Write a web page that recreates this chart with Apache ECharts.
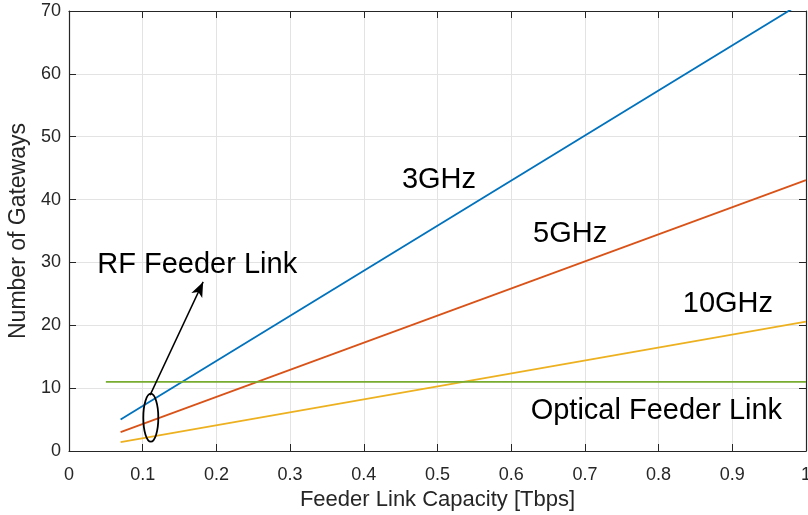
<!DOCTYPE html>
<html>
<head>
<meta charset="utf-8">
<script src="https://cdn.jsdelivr.net/npm/echarts@6/dist/echarts.min.js"></script>
<style>
  html, body { margin: 0; padding: 0; background: #fff; }
  #main { width: 808px; height: 515px; }
</style>
</head>
<body>
<div id="main"></div>
<script>
// 数据
const xTicks = [0, 0.1, 0.2, 0.3, 0.4, 0.5, 0.6, 0.7, 0.8, 0.9, 1];
const yTicks = [0, 10, 20, 30, 40, 50, 60, 70];
const rf3GHz = [[0.07, 5], [1, 71.7]];
const rf5GHz = [[0.07, 3], [1, 43.1]];
const rf10GHz = [[0.07, 1.4], [1, 20.6]];
const optical = [[0.05, 11], [1, 11]];

// 注释文字 (数据坐标)
const notes = [
  { text: '3GHz', at: [0.502, 43.1] },
  { text: '5GHz', at: [0.680, 34.5] },
  { text: '10GHz', at: [0.894, 23.4] },
  { text: 'RF Feeder Link', at: [0.174, 29.6] },
  { text: 'Optical Feeder Link', at: [0.797, 6.4] }
];
const arrowFrom = [0.110, 8.9];
const arrowTo = [0.182, 26.9];
const ellipseAt = [0.111, 5.3];

const axisColor = '#262626';
const fontFam = '"Liberation Sans", Arial, sans-serif';

const chart = echarts.init(document.getElementById('main'));

function lineSeries(name, data, color) {
  return {
    name, type: 'line', data, symbol: 'none', clip: true,
    lineStyle: { color, width: 1.8 },
    animation: false
  };
}

const baseAxis = {
  axisLine: { show: true, onZero: false, lineStyle: { color: axisColor, width: 1.2 } },
  axisTick: { show: true, inside: true, length: 7, lineStyle: { color: axisColor } },
  axisLabel: { color: axisColor, fontSize: 18, fontFamily: fontFam },
  splitLine: { show: true, lineStyle: { color: '#e3e3e3', width: 1 } }
};

chart.setOption({
  animation: false,
  grid: { left: 69, right: 2, top: 11, bottom: 64, containLabel: false, outerBoundsMode: 'none' },
  xAxis: [
    Object.assign({}, baseAxis, {
      type: 'value', min: 0, max: 1, interval: 0.1,
      name: 'Feeder Link Capacity [Tbps]', nameLocation: 'middle', nameGap: 38,
      nameTextStyle: { color: axisColor, fontSize: 22, fontFamily: fontFam },
      axisLabel: Object.assign({}, baseAxis.axisLabel, {
        margin: 15,
        formatter: v => xTicks.includes(Math.round(v * 10) / 10) ? String(Math.round(v * 10) / 10) : ''
      })
    }),
    {
      type: 'value', min: 0, max: 1, interval: 0.1, position: 'top',
      axisLine: baseAxis.axisLine, axisTick: baseAxis.axisTick,
      axisLabel: { show: false }, splitLine: { show: false }
    }
  ],
  yAxis: [
    Object.assign({}, baseAxis, {
      type: 'value', min: 0, max: 70, interval: 10,
      name: 'Number of Gateways', nameLocation: 'middle', nameGap: 37,
      nameTextStyle: { color: axisColor, fontSize: 23, fontFamily: fontFam },
      axisLabel: Object.assign({}, baseAxis.axisLabel, {
        margin: 8,
        formatter: v => yTicks.includes(v) ? String(v) : ''
      })
    }),
    {
      type: 'value', min: 0, max: 70, interval: 10, position: 'right',
      axisLine: baseAxis.axisLine, axisTick: baseAxis.axisTick,
      axisLabel: { show: false }, splitLine: { show: false }
    }
  ],
  series: [
    lineSeries('3GHz', rf3GHz, '#0072BD'),
    lineSeries('5GHz', rf5GHz, '#D95319'),
    lineSeries('10GHz', rf10GHz, '#EDB120'),
    lineSeries('Optical', optical, '#77AC30'),
    {
      type: 'line', data: [], symbol: 'none',
      markLine: {
        silent: true, symbol: ['none', 'arrow'], symbolSize: [9, 15],
        label: { show: false },
        lineStyle: { color: '#000', width: 1.5, type: 'solid' },
        data: [[{ coord: arrowFrom }, { coord: arrowTo }]]
      }
    }
  ]
});

// 注释: 文字与椭圆
function drawNotes() {
  const els = notes.map(n => {
    const p = chart.convertToPixel({ xAxisIndex: 0, yAxisIndex: 0 }, n.at);
    return {
      type: 'text', x: p[0], y: p[1], z: 100,
      style: {
        text: n.text, fill: '#000', fontSize: 29, fontFamily: fontFam,
        align: 'center', verticalAlign: 'middle'
      }
    };
  });
  const c = chart.convertToPixel({ xAxisIndex: 0, yAxisIndex: 0 }, ellipseAt);
  els.push({
    type: 'ellipse', z: 100,
    shape: { cx: c[0], cy: c[1], rx: 7.5, ry: 24 },
    style: { fill: 'none', stroke: '#000', lineWidth: 1.8 }
  });
  chart.setOption({ graphic: els });
}
drawNotes();
</script>
</body>
</html>
